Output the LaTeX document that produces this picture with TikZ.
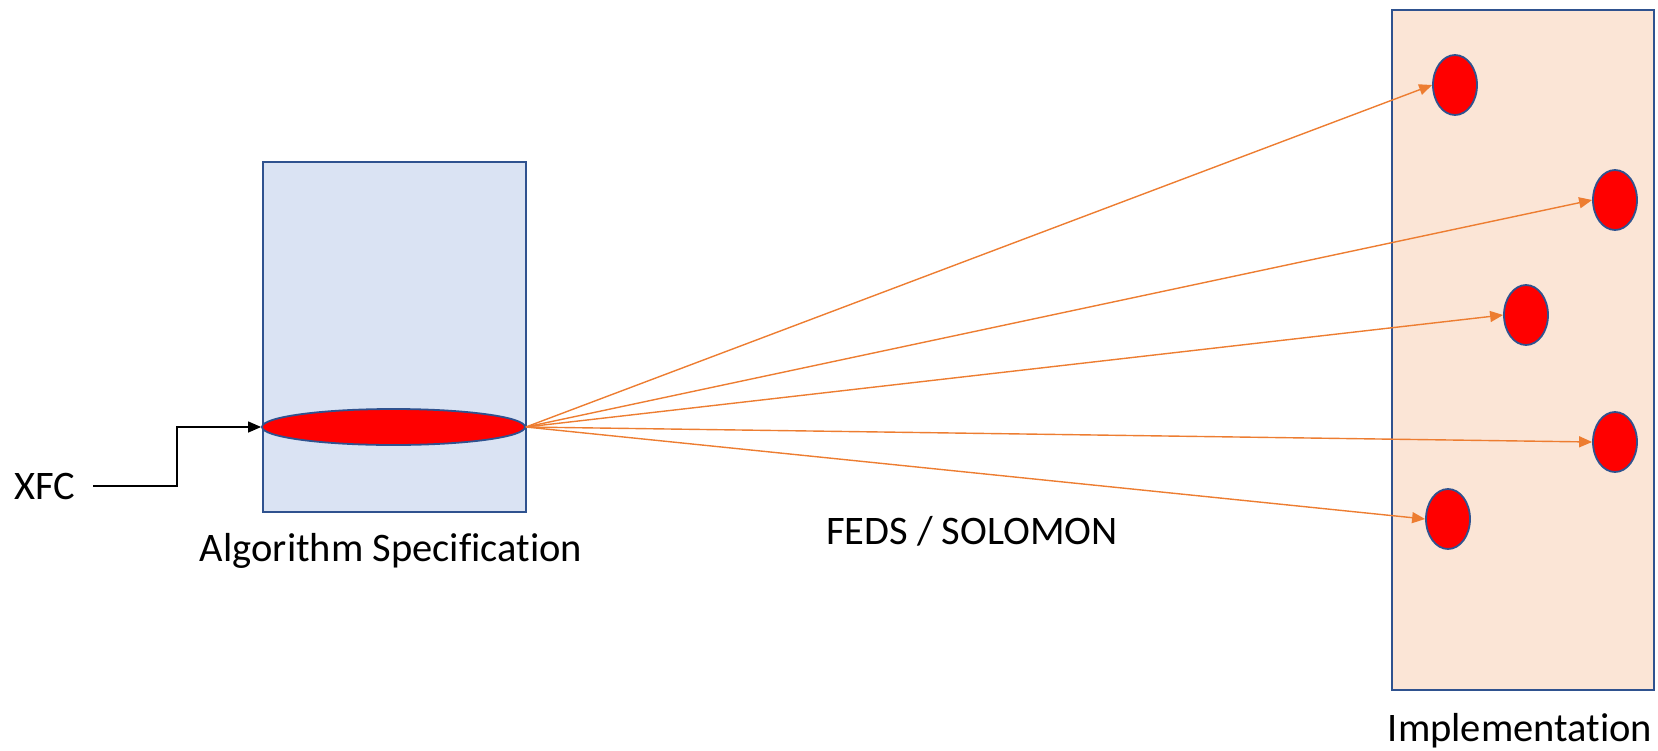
\documentclass[tikz,border=0pt]{standalone}
\usepackage{fontspec}
\setmainfont{Carlito}[Ligatures={NoCommon}]
\usetikzlibrary{arrows.meta,shapes.geometric}
\definecolor{specfill}{HTML}{DAE3F3}
\definecolor{implfill}{HTML}{FBE5D6}
\definecolor{edgeblue}{HTML}{2F528F}
\definecolor{flow}{HTML}{ED7D31}
\begin{document}
\begin{tikzpicture}[x=1pt,y=-1pt,
  panel/.style={draw=edgeblue, line width=2pt, inner sep=0pt, anchor=north west},
  token/.style={ellipse, draw=edgeblue, fill=red, line width=1.8pt, inner sep=0pt},
  unit/.style={token, minimum width=44pt, minimum height=60pt},
  label/.style={anchor=base, inner sep=0pt, font=\fontsize{40.5}{48}\selectfont},
  feed/.style={line width=1.3pt, -{Triangle[length=13pt,width=11pt]}},
  fan/.style={flow, line width=1.4pt, -{Triangle[length=13pt,width=11pt]}}]
\useasboundingbox (0,0) rectangle (1658,750);

% the two panels
\node[panel, fill=specfill, minimum width=263pt, minimum height=350pt] (spec) at (262,161) {};
\node[panel, fill=implfill, minimum width=262pt, minimum height=680pt] (impl) at (1391,9) {};

% algorithm inside the specification panel
\node[token, minimum width=263pt, minimum height=36pt] (alg) at (393.5,427) {};

% implementation units
\node[unit] (u1) at (1455,85) {};
\node[unit] (u2) at (1615,200) {};
\node[unit] (u3) at (1526,315) {};
\node[unit] (u4) at (1615,442) {};
\node[unit] (u5) at (1448,519) {};

% labels
\node[label, anchor=base west] (xfc) at (14,499) {XFC};
\node[label] (speclabel) at (391,561) {Algorithm Specification};
\node[label] (tool) at (972,544) {FEDS / SOLOMON};
\node[label] (impllabel) at (1520,741) {Implementation};

% input into the algorithm
\draw[feed] ([xshift=18pt]xfc.east) -| ([xshift=-84pt]alg.west) -- (alg.west);

% mapping onto the implementation
\foreach \u in {u1,u2,u3,u4,u5}
  \draw[fan] (alg.east) -- (\u.west);
\end{tikzpicture}
\end{document}
